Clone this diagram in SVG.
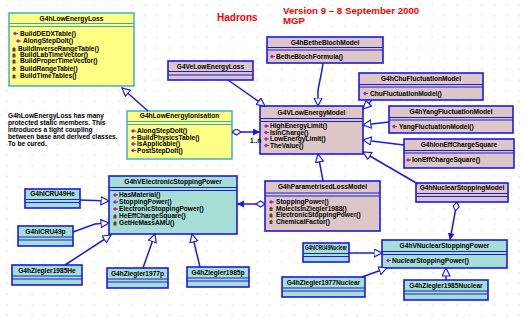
<svg xmlns="http://www.w3.org/2000/svg" width="525" height="324" viewBox="0 0 525 324">
<style>
.t{font-family:"Liberation Sans",Arial,sans-serif;font-size:6.6px;font-weight:bold;fill:#000}
.h{text-anchor:middle}
.pk{fill:#dcc6c6;stroke:#1a1ae6;stroke-width:1.6}
.cy{fill:#a6ded6;stroke:#1a1ae6;stroke-width:1.6}
.yw{fill:#ffff84;stroke:#35aac8;stroke-width:1.4}
.sb{stroke:#1a1ae6;stroke-width:1}
.sy{stroke:#35aac8;stroke-width:1}
.c{fill:none;stroke:#1a1ae6;stroke-width:1.5}
.tri{marker-end:url(#tri)}
.red{font-family:"Liberation Sans",Arial,sans-serif;fill:#ff0000;font-weight:bold}
</style>
<defs>
<pattern id="grid" width="12.5" height="10.7" patternUnits="userSpaceOnUse">
<circle cx="7" cy="5" r="0.6" fill="#c4c4c4"/>
</pattern>
<marker id="tri" markerWidth="10" markerHeight="10" refX="8.5" refY="4.5" orient="auto" markerUnits="userSpaceOnUse">
<path d="M0.5,0.5 L8.5,4.5 L0.5,8.5 z" fill="#fff" stroke="#1a1ae6" stroke-width="1.2"/>
</marker>
<marker id="arr" markerWidth="8" markerHeight="8" refX="7" refY="3.5" orient="auto" markerUnits="userSpaceOnUse">
<path d="M0,0 L7,3.5 L0,7 z" fill="#1a1ae6"/>
</marker>
<marker id="dia" markerWidth="11" markerHeight="8" refX="0.5" refY="3.5" orient="auto" markerUnits="userSpaceOnUse">
<path d="M0.5,3.5 L5,0.5 L9.5,3.5 L5,6.5 z" fill="#fff" stroke="#1a1ae6" stroke-width="1.1"/>
</marker>
<g id="ic"><path d="M0,2 L2,0 L4,2 L2,4 z" fill="#a020c0"/><rect x="3" y="1.5" width="2" height="1" fill="#a020c0"/></g>
<g id="ip"><path d="M0,2 L2,0 L4,2 L2,4 z" fill="#6a4010"/><rect x="0.5" y="3" width="3" height="1.5" fill="#6a4010"/></g>
</defs>
<rect width="525" height="324" fill="#fff"/>
<rect width="525" height="324" fill="url(#grid)"/>

<g id="title">
<text class="red" x="217" y="20.5" font-size="10">Hadrons</text>
<text class="red" x="283" y="13.5" font-size="9.7">Version 9 – 8 September  2000</text>
<text class="red" x="283" y="23.5" font-size="9.7">MGP</text>
</g>

<g id="note">
<text class="t" x="8" y="118" font-size="6">G4hLowEnergyLoss has many</text>
<text class="t" x="8" y="125" font-size="6">protected static members. This</text>
<text class="t" x="8" y="132" font-size="6">introduces a tight coupling</text>
<text class="t" x="8" y="139" font-size="6">between base and derived classes.</text>
<text class="t" x="8" y="146" font-size="6">To be cured.</text>
</g>

<g id="G4hLowEnergyLoss">
<rect class="yw" x="9" y="13" width="125" height="73"/>
<line class="sy" x1="9" y1="23.5" x2="134" y2="23.5"/>
<line class="sy" x1="9" y1="26.5" x2="134" y2="26.5"/>
<text class="t h" x="71.5" y="20.8">G4hLowEnergyLoss</text>
<use href="#ic" x="13" y="31.5"/><text class="t" x="20" y="35.6">BuildDEDXTable()</text>
<use href="#ic" x="16" y="39"/><text class="t" x="23" y="43">AlongStepDoIt()</text>
<use href="#ip" x="12" y="47"/><text class="t" x="18" y="51.2">BuildInverseRangeTable()</text>
<use href="#ip" x="12" y="53"/><text class="t" x="20" y="57.2">BuildLabTimeVector()</text>
<use href="#ip" x="12" y="59"/><text class="t" x="20" y="63.2">BuildProperTimeVector()</text>
<use href="#ip" x="12" y="66.3"/><text class="t" x="20" y="70.5">BuildRangeTable()</text>
<use href="#ip" x="12" y="74"/><text class="t" x="20" y="78.2">BuildTimeTables()</text>
</g>

<g id="G4hBetheBlochModel">
<rect class="pk" x="267" y="37" width="116" height="26"/>
<line class="sb" x1="267" y1="47.5" x2="383" y2="47.5"/>
<line class="sb" x1="267" y1="50" x2="383" y2="50"/>
<text class="t h" x="325" y="44.8">G4hBetheBlochModel</text>
<use href="#ic" x="270" y="54.5"/><text class="t" x="276" y="58.7">BetheBlochFormula()</text>
</g>

<g id="G4VeLowEnergyLoss">
<rect class="pk" x="168" y="61" width="85" height="19"/>
<line class="sb" x1="168" y1="71.5" x2="253" y2="71.5"/>
<line class="sb" x1="168" y1="75" x2="253" y2="75"/>
<text class="t h" x="210.5" y="68.5">G4VeLowEnergyLoss</text>
</g>

<g id="G4hChuFluctuationModel">
<rect class="pk" x="359" y="73" width="124" height="27"/>
<line class="sb" x1="359" y1="84.5" x2="483" y2="84.5"/>
<line class="sb" x1="359" y1="87" x2="483" y2="87"/>
<text class="t h" x="421" y="81">G4hChuFluctuationModel</text>
<use href="#ic" x="363" y="91.5"/><text class="t" x="370" y="95.7">ChuFluctuationModel()</text>
</g>

<g id="G4hYangFluctuationModel">
<rect class="pk" x="389" y="106" width="124" height="27"/>
<line class="sb" x1="389" y1="117.5" x2="513" y2="117.5"/>
<line class="sb" x1="389" y1="120" x2="513" y2="120"/>
<text class="t h" x="451" y="114">G4hYangFluctuationModel</text>
<use href="#ic" x="392" y="124.5"/><text class="t" x="399" y="128.7">YangFluctuationModel()</text>
</g>

<g id="G4hIonEffChargeSquare">
<rect class="pk" x="404" y="139" width="110" height="29"/>
<line class="sb" x1="404" y1="150.5" x2="514" y2="150.5"/>
<line class="sb" x1="404" y1="153" x2="514" y2="153"/>
<text class="t h" x="459" y="146.5">G4hIonEffChargeSquare</text>
<use href="#ic" x="406" y="158"/><text class="t" x="412" y="162.2">IonEffChargeSquare()</text>
</g>

<g id="G4hNuclearStoppingModel">
<rect class="pk" x="416" y="183" width="92" height="19"/>
<line class="sb" x1="416" y1="193.5" x2="508" y2="193.5"/>
<line class="sb" x1="416" y1="196.5" x2="508" y2="196.5"/>
<text class="t h" x="462" y="190.3">G4hNuclearStoppingModel</text>
</g>

<g id="G4VLowEnergyModel">
<rect class="pk" x="260" y="106" width="103" height="48"/>
<line class="sb" x1="260" y1="118.5" x2="363" y2="118.5"/>
<line class="sb" x1="260" y1="121.5" x2="363" y2="121.5"/>
<text class="t h" x="311.5" y="115">G4VLowEnergyModel</text>
<use href="#ic" x="264" y="124"/><text class="t" x="270" y="128">HighEnergyLimit()</text>
<use href="#ic" x="264" y="130.5"/><text class="t" x="270" y="134.5">IsInCharge()</text>
<use href="#ic" x="264" y="137"/><text class="t" x="270" y="141">LowEnergyLimit()</text>
<use href="#ic" x="264" y="143.5"/><text class="t" x="270" y="147.5">TheValue()</text>
</g>

<g id="G4hLowEnergyIonisation">
<rect class="yw" x="127" y="111" width="105" height="48"/>
<line class="sy" x1="127" y1="121.5" x2="232" y2="121.5"/>
<line class="sy" x1="127" y1="124.5" x2="232" y2="124.5"/>
<text class="t h" x="179.5" y="118.3">G4hLowEnergyIonisation</text>
<use href="#ic" x="131" y="129"/><text class="t" x="137" y="133">AlongStepDoIt()</text>
<use href="#ic" x="131" y="135.5"/><text class="t" x="137" y="139.5">BuildPhysicsTable()</text>
<use href="#ic" x="131" y="142"/><text class="t" x="137" y="146">IsApplicable()</text>
<use href="#ic" x="131" y="148.5"/><text class="t" x="137" y="152.5">PostStepDoIt()</text>
</g>

<g id="G4hParametrisedLossModel">
<rect class="pk" x="265" y="181" width="115" height="50"/>
<line class="sb" x1="265" y1="193" x2="380" y2="193"/>
<line class="sb" x1="265" y1="196" x2="380" y2="196"/>
<text class="t h" x="322.5" y="189">G4hParametrisedLossModel</text>
<use href="#ic" x="269" y="200"/><text class="t" x="276" y="204">StoppingPower()</text>
<use href="#ip" x="269" y="206.5"/><text class="t" x="276" y="210.5">MolecIsInZiegler1988()</text>
<use href="#ip" x="269" y="213"/><text class="t" x="276" y="217">ElectronicStoppingPower()</text>
<use href="#ip" x="269" y="219.5"/><text class="t" x="276" y="223.5">ChemicalFactor()</text>
</g>

<g id="G4hVElectronicStoppingPower">
<rect class="cy" x="109" y="176" width="128" height="58"/>
<line class="sb" x1="109" y1="187.5" x2="237" y2="187.5"/>
<line class="sb" x1="109" y1="190.5" x2="237" y2="190.5"/>
<text class="t h" x="173" y="183.5">G4hVElectronicStoppingPower</text>
<use href="#ic" x="113" y="193"/><text class="t" x="119" y="197">HasMaterial()</text>
<use href="#ic" x="113" y="200"/><text class="t" x="119" y="204">StoppingPower()</text>
<use href="#ic" x="113" y="207"/><text class="t" x="119" y="211">ElectronicStoppingPower()</text>
<use href="#ip" x="113" y="214"/><text class="t" x="119" y="218">HeEffChargeSquare()</text>
<use href="#ip" x="113" y="221"/><text class="t" x="119" y="225">GetHeMassAMU()</text>
</g>

<g id="G4hICRU49He">
<rect class="cy" x="25" y="189" width="55" height="19"/>
<line class="sb" x1="25" y1="199.5" x2="80" y2="199.5"/>
<line class="sb" x1="25" y1="202.5" x2="80" y2="202.5"/>
<text class="t h" x="52.5" y="196.3">G4hICRU49He</text>
</g>

<g id="G4hICRU49p">
<rect class="cy" x="18" y="226" width="55" height="20"/>
<line class="sb" x1="18" y1="237" x2="73" y2="237"/>
<line class="sb" x1="18" y1="240" x2="73" y2="240"/>
<text class="t h" x="45.5" y="233.5">G4hICRU49p</text>
</g>

<g id="G4hZiegler1985He">
<rect class="cy" x="12" y="265" width="70" height="20"/>
<line class="sb" x1="12" y1="276" x2="82" y2="276"/>
<line class="sb" x1="12" y1="279" x2="82" y2="279"/>
<text class="t h" x="47" y="272.5">G4hZiegler1985He</text>
</g>

<g id="G4hZiegler1977p">
<rect class="cy" x="107" y="268" width="61" height="20"/>
<line class="sb" x1="107" y1="279" x2="168" y2="279"/>
<line class="sb" x1="107" y1="282" x2="168" y2="282"/>
<text class="t h" x="137.5" y="275.5">G4hZiegler1977p</text>
</g>

<g id="G4hZiegler1985p">
<rect class="cy" x="187" y="267" width="62" height="20"/>
<line class="sb" x1="187" y1="278" x2="249" y2="278"/>
<line class="sb" x1="187" y1="281" x2="249" y2="281"/>
<text class="t h" x="218" y="274.5">G4hZiegler1985p</text>
</g>

<g id="G4hICRU49Nuclear">
<rect class="cy" x="303" y="243" width="46" height="19"/>
<line class="sb" x1="303" y1="253.5" x2="349" y2="253.5"/>
<line class="sb" x1="303" y1="256.5" x2="349" y2="256.5"/>
<text class="t h" x="326" y="250.3" font-size="5.4" textLength="42" lengthAdjust="spacingAndGlyphs">G4hICRU49Nuclear</text>
</g>

<g id="G4hVNuclearStoppingPower">
<rect class="cy" x="382" y="240" width="125" height="28"/>
<line class="sb" x1="382" y1="251.5" x2="507" y2="251.5"/>
<line class="sb" x1="382" y1="254.5" x2="507" y2="254.5"/>
<text class="t h" x="444.5" y="248">G4hVNuclearStoppingPower</text>
<use href="#ic" x="386" y="258.5"/><text class="t" x="392" y="262.5">NuclearStoppingPower()</text>
</g>

<g id="G4hZiegler1977Nuclear">
<rect class="cy" x="282" y="277" width="83" height="20"/>
<line class="sb" x1="282" y1="288" x2="365" y2="288"/>
<line class="sb" x1="282" y1="291" x2="365" y2="291"/>
<text class="t h" x="323.5" y="284.5">G4hZiegler1977Nuclear</text>
</g>

<g id="G4hZiegler1985Nuclear">
<rect class="cy" x="404" y="280" width="84" height="20"/>
<line class="sb" x1="404" y1="291" x2="488" y2="291"/>
<line class="sb" x1="404" y1="294" x2="488" y2="294"/>
<text class="t h" x="446" y="287.5">G4hZiegler1985Nuclear</text>
</g>

<g id="connectors">
<path class="c tri" d="M148,111 L122,88"/>
<path class="c tri" d="M228,80 L265,106"/>
<path class="c tri" d="M323,63 L322,70 L318,90 L318,106"/>
<path class="c tri" d="M372,100 L363,109"/>
<path class="c tri" d="M389,122 L363,125"/>
<path class="c tri" d="M404,145 L363,140"/>
<path class="c tri" d="M418,184 L363,152"/>
<path class="c tri" d="M323,181 L318,154"/>
<path class="c" d="M232,132 L260,132" marker-start="url(#dia)" marker-end="url(#arr)"/>
<path class="c" d="M265,204 L237,204" marker-start="url(#dia)" marker-end="url(#arr)"/>
<path class="c" d="M457,202 L450,240" marker-start="url(#dia)" marker-end="url(#arr)"/>
<path class="c tri" d="M80,200 L109,201"/>
<path class="c tri" d="M73,232 L95,224 L109,223"/>
<path class="c tri" d="M65,265 L111,235"/>
<path class="c tri" d="M143,268 L155,234"/>
<path class="c tri" d="M200,267 L192,234"/>
<path class="c tri" d="M349,253 L382,253"/>
<path class="c tri" d="M362,277 L387,268"/>
<path class="c tri" d="M446,280 L446,268"/>
<text class="t" x="250" y="142.5" font-size="6">1..n</text>
</g>
</svg>
